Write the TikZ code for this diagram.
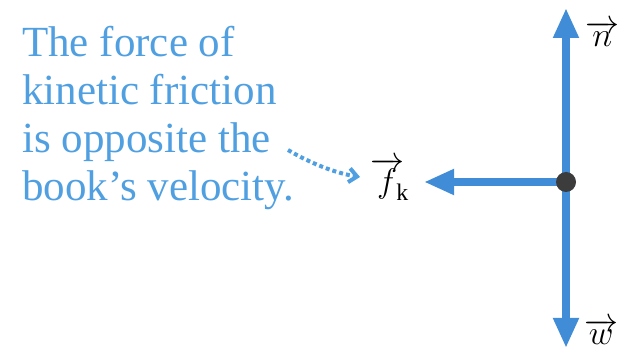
\RequirePackage{fix-cm}
\documentclass[tikz,border=0pt]{standalone}
\usepackage{fontspec}
\setmainfont{Liberation Serif}
\usetikzlibrary{arrows.meta}
\definecolor{txtblue}{RGB}{80,160,225}
\definecolor{arrblue}{RGB}{65,140,215}
\definecolor{dotgray}{RGB}{60,60,60}
\tikzset{
  force/.style={arrblue, line width=8pt, -{Triangle[length=30pt,width=24pt]}},
  caption/.style={txtblue, anchor=base west, inner sep=0pt, font=\fontsize{43}{48}\selectfont},
  vlabel/.style={anchor=base west, inner sep=0pt, font=\fontsize{34}{40}\selectfont},
  hint/.style={txtblue, line width=4pt, dash pattern=on 4pt off 3pt, -{Straight Barb[length=8pt,width=14pt,line width=4pt]}}
}
\begin{document}
\begin{tikzpicture}[x=1pt,y=1pt]
\useasboundingbox (0,0) rectangle (627,351);
\coordinate (c) at (566,169);
\coordinate (ntip) at (566,343);
\coordinate (wtip) at (566,3);
\coordinate (ftip) at (424,169);
\draw[force] (c) -- (ntip);
\draw[force] (c) -- (wtip);
\draw[force] (c) -- (ftip);
\node[circle, fill=dotgray, minimum size=20pt, inner sep=0pt] (dot) at (c) {};
\node[caption] (l1) at (22,294) {The force of};
\node[caption] (l2) at (22,246) {kinetic friction};
\node[caption] (l3) at (22,198) {is opposite the};
\node[caption] (l4) at (22,150) {book’s velocity.};
\node[vlabel] (n) at (585,304) {$\overrightarrow{n}$};
\node[vlabel] (w) at (584,6) {$\overrightarrow{w}$};
\node[vlabel] (f) at (370,158) {$\overrightarrow{f}_{\!\!\mathrm{k}}$};
\coordinate (hs) at (288,201);
\draw[hint] (hs) .. controls (310,188) and (335,178) .. (360,174);
\end{tikzpicture}
\end{document}
